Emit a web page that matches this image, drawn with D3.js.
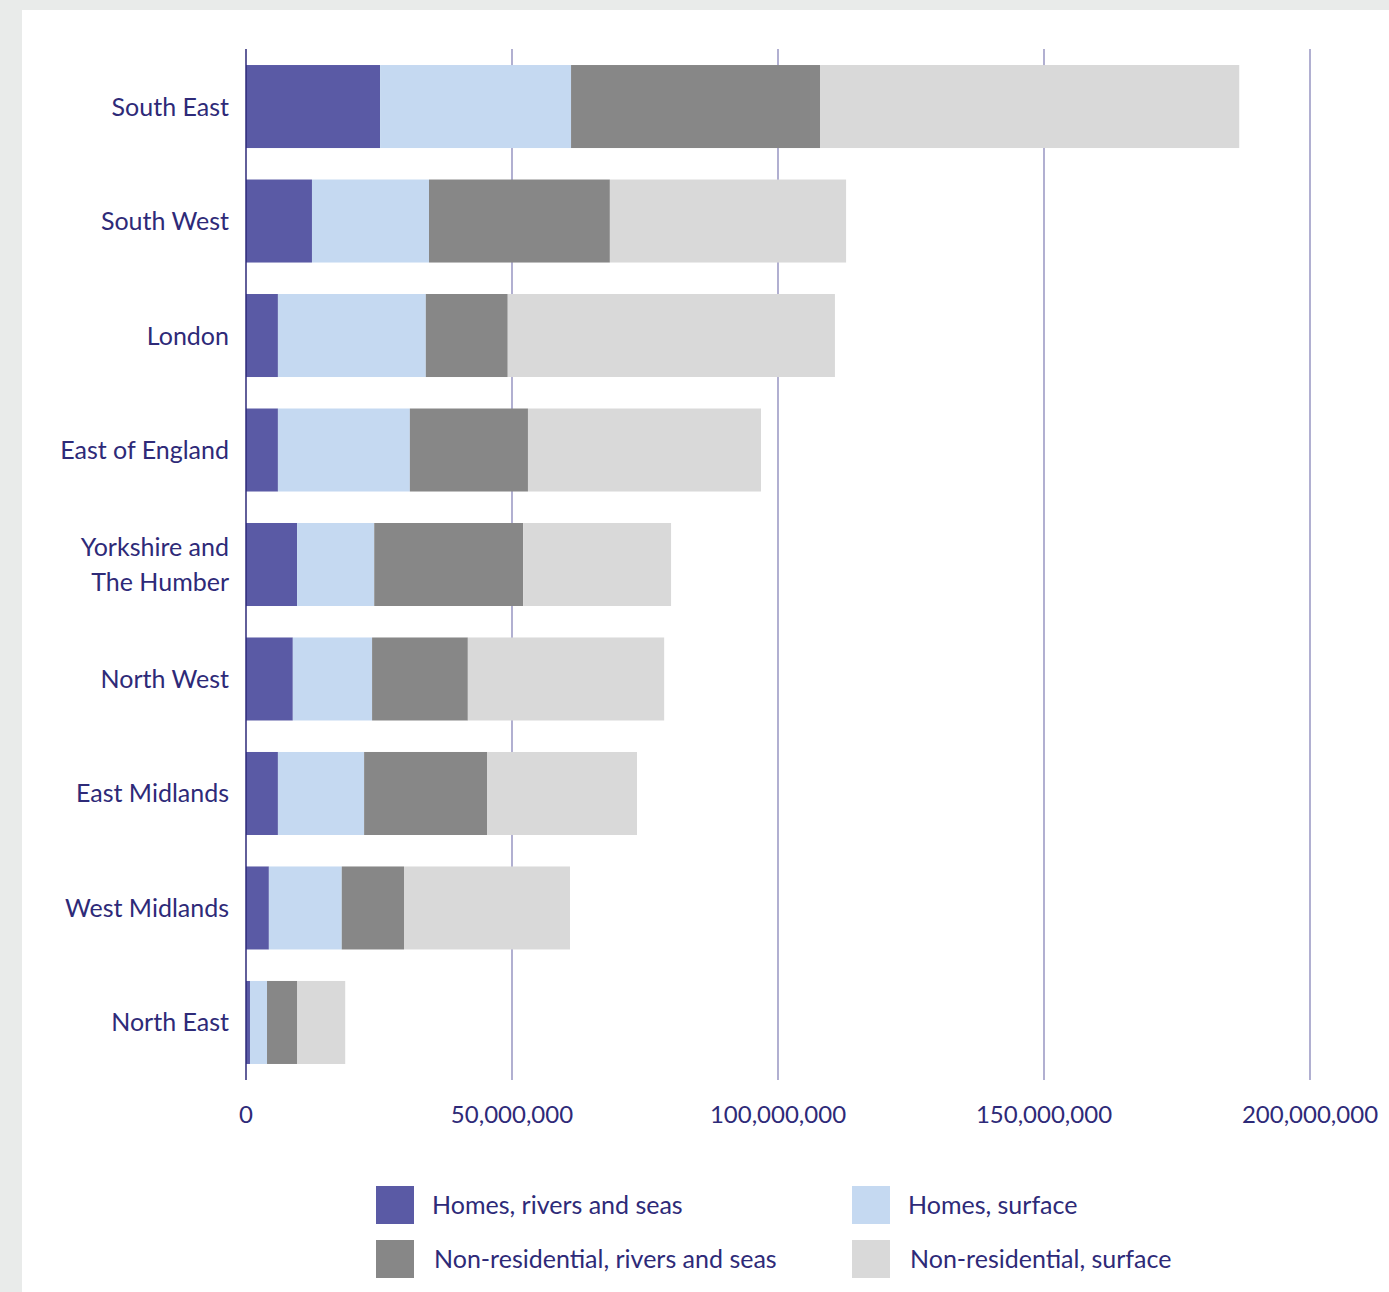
<!DOCTYPE html>
<html>
<head>
<meta charset="utf-8">
<script src="https://cdn.jsdelivr.net/npm/d3@7"></script>
<style>
  html, body { margin: 0; padding: 0; background: #e9ebea; }
  svg { display: block; }
  text { font-family: Lato, "Open Sans", sans-serif; fill: #2e2a78; }
</style>
</head>
<body>
<div id="chart"></div>
<script>
const regions = ["South East", "South West", "London", "East of England", "Yorkshire and The Humber",
  "North West", "East Midlands", "West Midlands", "North East"];
const regionLines = [["South East"], ["South West"], ["London"], ["East of England"], ["Yorkshire and", "The Humber"],
  ["North West"], ["East Midlands"], ["West Midlands"], ["North East"]];

const seriesNames = ["Homes, rivers and seas", "Homes, surface", "Non-residential, rivers and seas", "Non-residential, surface"];

// values in £ (millions)
const homesRivers   = [25.2, 12.4,  6.0,  6.0,  9.6,  8.8,  6.0,  4.3, 0.75].map(v => v * 1e6);
const homesSurface  = [35.9, 22.0, 27.8, 24.8, 14.5, 14.9, 16.2, 13.7, 3.2].map(v => v * 1e6);
const nonresRivers  = [46.8, 34.0, 15.4, 22.2, 28.0, 18.0, 23.1, 11.7, 5.7].map(v => v * 1e6);
const nonresSurface = [78.8, 44.4, 61.5, 43.8, 27.8, 36.9, 28.2, 31.2, 9.0].map(v => v * 1e6);

const tickValues = [0, 50e6, 100e6, 150e6, 200e6];
const colors = ["#5a5aa5", "#c5d9f1", "#878787", "#d9d9d9"];

const width = 1389, height = 1292;
const svg = d3.select("#chart").append("svg").attr("width", width).attr("height", height);

svg.append("rect").attr("x", 22).attr("y", 10).attr("width", width - 22).attr("height", height - 10).attr("fill", "#ffffff");

const keys = ["hr", "hs", "nr", "ns"];
const data = regions.map((r, i) => ({
  region: r, hr: homesRivers[i], hs: homesSurface[i], nr: nonresRivers[i], ns: nonresSurface[i]
}));
const stacked = d3.stack().keys(keys)(data);

const x = d3.scaleLinear().domain([0, 200e6]).range([246, 1310]);
const y = d3.scaleBand().domain(regions).range([49, 1080]).paddingInner(0.275).paddingOuter(0.14);

// gridlines
svg.append("g")
  .selectAll("line")
  .data(tickValues.slice(1))
  .enter()
  .append("line")
  .attr("x1", d => x(d)).attr("x2", d => x(d))
  .attr("y1", 49).attr("y2", 1080)
  .attr("stroke", "#7d7bb3")
  .attr("stroke-width", 1.2);

// bars
svg.append("g")
  .selectAll("g")
  .data(stacked)
  .enter()
  .append("g")
  .attr("fill", (d, i) => colors[i])
  .selectAll("rect")
  .data(d => d)
  .enter()
  .append("rect")
  .attr("x", d => x(d[0]))
  .attr("y", d => y(d.data.region))
  .attr("width", d => x(d[1]) - x(d[0]))
  .attr("height", y.bandwidth());

// zero axis line
svg.append("line")
  .attr("x1", x(0)).attr("x2", x(0))
  .attr("y1", 49).attr("y2", 1080)
  .attr("stroke", "#2e2a78")
  .attr("stroke-width", 1.5);

// x tick labels
svg.append("g")
  .selectAll("text")
  .data(tickValues)
  .enter()
  .append("text")
  .attr("x", d => x(d))
  .attr("y", 1123)
  .attr("text-anchor", "middle")
  .style("font-size", "24px")
  .text(d => d3.format(",")(d));

// category labels
const labels = svg.append("g")
  .selectAll("text")
  .data(regions)
  .enter()
  .append("text")
  .attr("text-anchor", "end")
  .style("font-size", "25px")
  .attr("y", d => y(d) + y.bandwidth() / 2);

labels.each(function (d, i) {
  const lines = regionLines[i];
  const t = d3.select(this);
  const lh = 35;
  const y0 = y(d) + y.bandwidth() / 2 + 9 - (lines.length - 1) * lh / 2;
  lines.forEach((l, j) => {
    t.append("tspan").attr("x", 229).attr("y", y0 + j * lh).text(l);
  });
});

// legend
const legendPos = [[376, 1186], [852, 1186], [376, 1240], [852, 1240]];
const legend = svg.append("g")
  .selectAll("g")
  .data(seriesNames)
  .enter()
  .append("g")
  .attr("transform", (d, i) => `translate(${legendPos[i][0]},${legendPos[i][1]})`);

legend.append("rect")
  .attr("width", 38).attr("height", 38)
  .attr("fill", (d, i) => colors[i]);

legend.append("text")
  .attr("x", (d, i) => i < 2 ? 56 : 58)
  .attr("y", 28)
  .style("font-size", "25px")
  .text(d => d);
</script>
</body>
</html>
